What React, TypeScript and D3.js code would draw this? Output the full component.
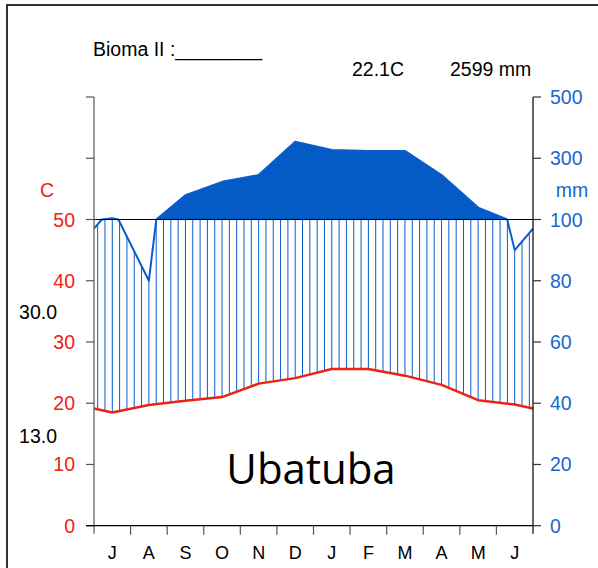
import React from 'react';
import * as d3 from 'd3';

const months = ['J', 'A', 'S', 'O', 'N', 'D', 'J', 'F', 'M', 'A', 'M', 'J'];
const temperature = [18.5, 19.7, 20.4, 21.0, 23.2, 24.1, 25.6, 25.6, 24.5, 23.0, 20.5, 19.8];
const precipitation = [104, 80, 179, 223, 245, 354, 327, 324, 324, 245, 139, 90];
const tempTicks = [0, 10, 20, 30, 40, 50];
const precipTicksLow = [0, 20, 40, 60, 80, 100];
const precipTicksHigh = [300, 500];
const title = 'Bioma II :________';
const meanTempLabel = '22.1C';
const totalPrecipLabel = '2599 mm';
const maxTempLabel = '30.0';
const minTempLabel = '13.0';
const station = 'Ubatuba';

const W = 598;
const H = 568;
const left = 94;
const right = 533;
const bottom = 525.7;
const y100 = 219.5;
const top = 97;

const BLUE = '#0a5ccc';
const FILL = '#045bc6';
const RED = '#ee2211';
const LBLUE = '#1866d0';
const FONT = '"Liberation Sans", Arial, sans-serif';

export default function App() {
  const x = d3.scaleLinear().domain([0, 12]).range([left, right]);
  const yT = d3.scaleLinear().domain([0, 50]).range([bottom, y100]);
  const yP = d3.scaleLinear().domain([0, 100, 500]).range([bottom, y100, top]);

  const n = months.length;
  const tEdge = (temperature[0] + temperature[n - 1]) / 2;
  const pEdge = (precipitation[0] + precipitation[n - 1]) / 2;
  const tPts = [{ m: 0, v: tEdge }, ...temperature.map((v, i) => ({ m: i + 0.5, v })), { m: 12, v: tEdge }];
  const pBase = [{ m: 0, v: pEdge }, ...precipitation.map((v, i) => ({ m: i + 0.5, v })), { m: 12, v: pEdge }];
  const pPts: { m: number; v: number }[] = [];
  pBase.forEach((p, i) => {
    if (i > 0) {
      const a = pBase[i - 1];
      if ((a.v - 100) * (p.v - 100) < 0) {
        pPts.push({ m: a.m + ((100 - a.v) / (p.v - a.v)) * (p.m - a.m), v: 100 });
      }
    }
    pPts.push(p);
  });

  const tInterp = d3.scaleLinear().domain(tPts.map((d) => d.m)).range(tPts.map((d) => d.v));
  const pInterp = d3.scaleLinear().domain(pBase.map((d) => d.m)).range(pBase.map((d) => d.v));

  const lineT = d3.line<{ m: number; v: number }>().x((d) => x(d.m)).y((d) => yT(d.v));
  const lineP = d3.line<{ m: number; v: number }>().x((d) => x(d.m)).y((d) => yP(d.v));
  const areaP = d3
    .area<{ m: number; v: number }>()
    .x((d) => x(d.m))
    .y0(yP(100))
    .y1((d) => yP(Math.max(d.v, 100)));

  const N = 60;
  const hatch = d3.range(N).map((i) => {
    const m = ((i + 0.5) * 12) / N;
    const t = tInterp(m);
    const p = pInterp(m);
    return { m, t, p };
  }).filter((d) => d.p / 2 > d.t);

  return (
    <svg width={W} height={H} style={{ position: 'absolute', left: 0, top: 0 }} fontFamily={FONT}>
      <rect x={0} y={0} width={W} height={H} fill="#fff" />
      <rect x={7} y={5} width={640} height={620} fill="none" stroke="#333" strokeWidth={2} />

      <text x={93} y={56} fontSize={19.5} fill="#000">{title}</text>
      <text x={352} y={76} fontSize={19.5} fill="#000">{meanTempLabel}</text>
      <text x={450} y={76} fontSize={19.5} fill="#000">{totalPrecipLabel}</text>

      {/* humid hatching */}
      {hatch.map((d, i) => (
        <line key={i} x1={x(d.m)} x2={x(d.m)} y1={yT(d.t)} y2={yP(Math.min(d.p, 100))} stroke={BLUE} strokeWidth={1} />
      ))}

      {/* perhumid fill */}
      <path d={areaP(pPts) || ''} fill={FILL} />
      <path d={lineP(pPts) || ''} fill="none" stroke={BLUE} strokeWidth={2} strokeLinejoin="round" />
      <path d={lineT(tPts) || ''} fill="none" stroke={RED} strokeWidth={2.5} strokeLinejoin="round" />

      {/* 100 mm line */}
      <line x1={86} x2={541} y1={y100} y2={y100} stroke="#000" strokeWidth={1.2} />

      {/* left axis */}
      <line x1={left} x2={left} y1={top} y2={bottom + 8} stroke="#777" strokeWidth={1.5} />
      {tempTicks.map((t) => (
        <g key={t}>
          <line x1={86} x2={left} y1={yT(t)} y2={yT(t)} stroke="#555" strokeWidth={1.2} />
          <text x={75} y={yT(t) + 7} textAnchor="end" fontSize={19.5} fill={RED}>{t}</text>
        </g>
      ))}
      {precipTicksHigh.map((p) => (
        <line key={p} x1={86} x2={left} y1={yP(p)} y2={yP(p)} stroke="#555" strokeWidth={1.2} />
      ))}
      <text x={47} y={197} textAnchor="middle" fontSize={19.5} fill={RED}>C</text>
      <text x={57} y={319} textAnchor="end" fontSize={19.5} fill="#000">{maxTempLabel}</text>
      <text x={57} y={443} textAnchor="end" fontSize={19.5} fill="#000">{minTempLabel}</text>

      {/* right axis */}
      <line x1={right} x2={right} y1={top} y2={bottom + 8} stroke="#000" strokeWidth={1.2} />
      {[...precipTicksLow, ...precipTicksHigh].map((p) => (
        <g key={p}>
          <line x1={right} x2={541} y1={yP(p)} y2={yP(p)} stroke="#333" strokeWidth={1.2} />
          <text x={550} y={yP(p) + 7} fontSize={19.5} fill={LBLUE}>{p}</text>
        </g>
      ))}
      <text x={572} y={197} textAnchor="middle" fontSize={19.5} fill={LBLUE}>mm</text>

      {/* bottom axis */}
      <line x1={86} x2={right} y1={bottom} y2={bottom} stroke="#000" strokeWidth={1.2} />
      {d3.range(1, 12).map((i) => (
        <line key={i} x1={x(i)} x2={x(i)} y1={bottom} y2={bottom + 9} stroke="#555" strokeWidth={1.2} />
      ))}
      {months.map((m, i) => (
        <text key={i} x={x(i + 0.5)} y={559} textAnchor="middle" fontSize={18} fill="#000">{m}</text>
      ))}

      <text x={311} y={484} textAnchor="middle" fontSize={42} fontFamily='"Open Sans", sans-serif' fill="#000">{station}</text>
    </svg>
  );
}
